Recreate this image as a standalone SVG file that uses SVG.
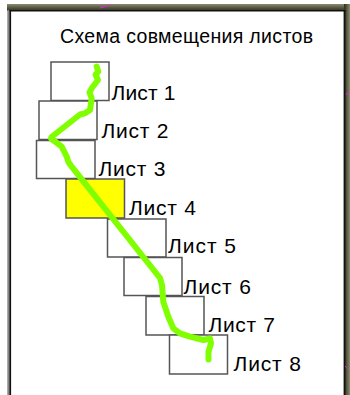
<svg xmlns="http://www.w3.org/2000/svg" width="350" height="395" viewBox="0 0 350 395">
<defs>
<linearGradient id="gTop" x1="0" y1="0" x2="0" y2="1">
<stop offset="0" stop-color="#8c8c78"/>
<stop offset="0.5" stop-color="#5a5a40"/>
<stop offset="1" stop-color="#2e2e22"/>
</linearGradient>
<linearGradient id="gRight" x1="0" y1="0" x2="1" y2="0">
<stop offset="0" stop-color="#2e2e22"/>
<stop offset="0.5" stop-color="#5a5a40"/>
<stop offset="1" stop-color="#8c8c78"/>
</linearGradient>
<style>
.sheet{fill:#ffffff;stroke:#555555;stroke-width:1.5}
.hl{fill:#ffff00}
.lbl{font-family:"Liberation Sans",Arial,sans-serif;font-size:21px;fill:#000000}
.title{font-family:"Liberation Sans",Arial,sans-serif;font-size:19.5px;fill:#000000}
.route{fill:none;stroke:#80ff00;stroke-width:6;stroke-linecap:round;stroke-linejoin:round}
.mark{stroke:#e020e0;stroke-width:1}
</style>
</defs>
<rect x="0" y="0" width="350" height="395" fill="#ffffff"/>
<g id="frame">
<rect x="7" y="4" width="343" height="7" fill="url(#gTop)"/>
<rect x="344" y="4" width="6" height="391" fill="url(#gRight)"/>
<rect x="7.3" y="10" width="2" height="385" fill="#888888"/>
<rect x="9.3" y="10" width="1.8" height="385" fill="#111111"/>
<rect x="10" y="10" width="336" height="1.5" fill="#111111"/>
<rect x="343.6" y="10" width="1.8" height="385" fill="#111111"/>
<line class="mark" x1="100" y1="8" x2="110" y2="5"/>
<line class="mark" x1="346" y1="95" x2="349" y2="91"/>
<line class="mark" x1="345" y1="366" x2="348" y2="369"/>
</g>
<text id="title" class="title" x="60" y="43" textLength="253" lengthAdjust="spacing">Схема  совмещения  листов</text>
<g id="sheet1"><rect class="sheet" x="51" y="62" width="58" height="38.5"/><text class="lbl" x="111.5" y="100" textLength="64" lengthAdjust="spacing">Лист  1</text></g>
<g id="sheet2"><rect class="sheet" x="39" y="101" width="58" height="38.5"/><text class="lbl" x="101.5" y="138" textLength="67" lengthAdjust="spacing">Лист  2</text></g>
<g id="sheet3"><rect class="sheet" x="36.5" y="140.5" width="58.5" height="38"/><text class="lbl" x="98.5" y="176" textLength="67" lengthAdjust="spacing">Лист  3</text></g>
<g id="sheet4"><rect class="sheet hl" x="66" y="179" width="58.5" height="39"/><text class="lbl" x="129" y="215" textLength="67" lengthAdjust="spacing">Лист  4</text></g>
<g id="sheet5"><rect class="sheet" x="107.5" y="219" width="58.5" height="38"/><text class="lbl" x="168" y="253" textLength="68" lengthAdjust="spacing">Лист  5</text></g>
<g id="sheet6"><rect class="sheet" x="124" y="257.5" width="58" height="38"/><text class="lbl" x="183.5" y="294" textLength="67.5" lengthAdjust="spacing">Лист  6</text></g>
<g id="sheet7"><rect class="sheet" x="146" y="296.5" width="58" height="38.5"/><text class="lbl" x="208.5" y="332" textLength="66.5" lengthAdjust="spacing">Лист  7</text></g>
<g id="sheet8"><rect class="sheet" x="169.5" y="335" width="58" height="39"/><text class="lbl" x="233.5" y="371" textLength="67.5" lengthAdjust="spacing">Лист  8</text></g>
<g id="connectors">
<path class="route" d="M96.7,66.7 L98.3,71.7 L95.5,74.5 L98,80 L91.7,88.3 L89.5,92.5 L91.7,98.3 L90,110 L85,113.3 L80,114.5 L51.5,137 L51,138.5 L61.7,146.7 L66.7,156.7 L68.3,161.7 L71.7,166.7 L160,278 L162,285 L163.3,301.7 L168.3,316.7 L173.3,328.3 L180,333.3 L190,336.7 L203.3,340 L210,338.5 L211,343.3 L208.5,351.7 L208.5,359.5"/>
</g>
</svg>
